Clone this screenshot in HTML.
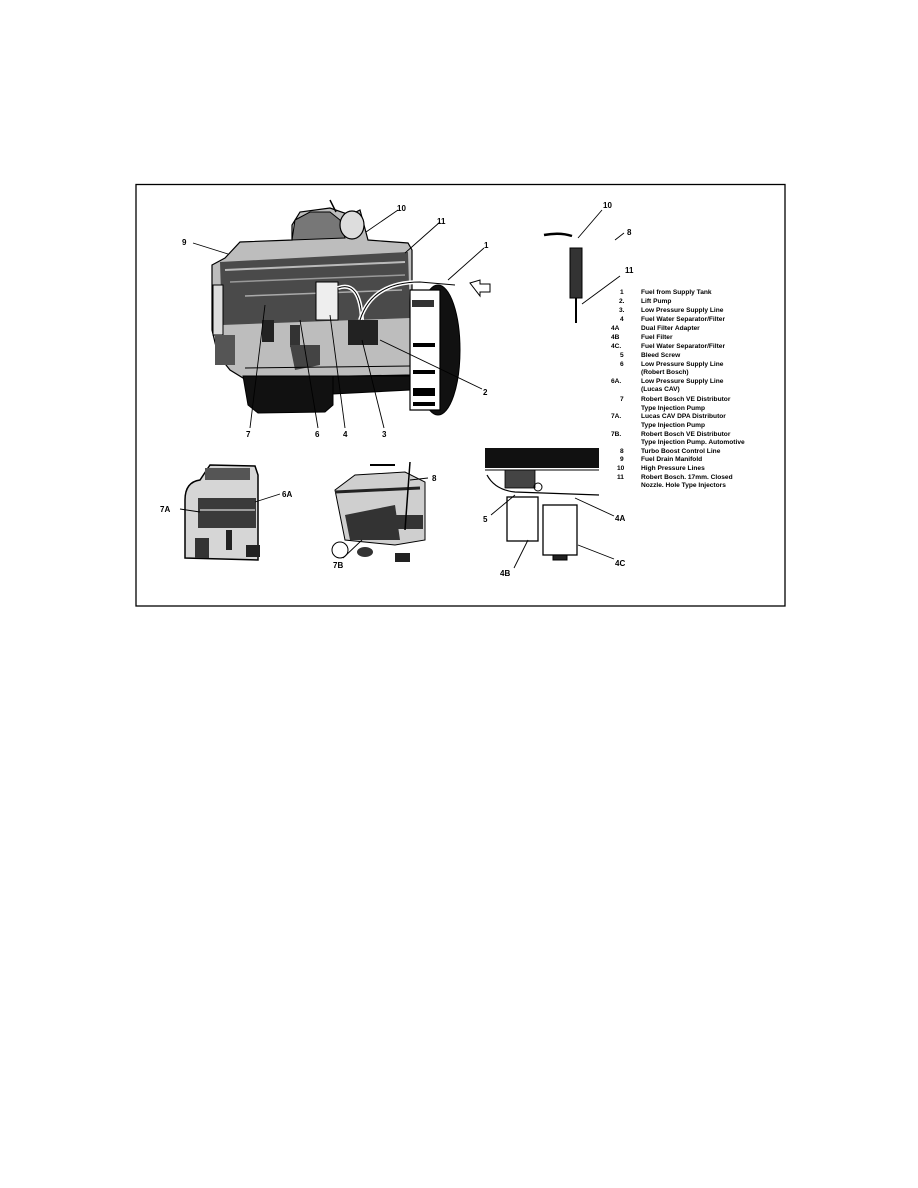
<!DOCTYPE html>
<html><head><meta charset="utf-8"><style>
html,body{margin:0;padding:0;background:#fff;}
svg{display:block;}
text{font-family:"Liberation Sans",sans-serif;font-weight:bold;fill:#000;}
.lg{font-size:6.6px;}
.lb{font-size:8px;}
</style></head><body>
<svg width="918" height="1188" viewBox="0 0 918 1188" xmlns="http://www.w3.org/2000/svg">
<rect x="136" y="184.5" width="649" height="421.5" fill="none" stroke="#000" stroke-width="1.3"/>

<!-- main engine -->
<g stroke="#000" fill="none">
 <!-- body -->
 <path d="M212 265 L225 258 L240 242 L292 240 L292 225 L300 212 L330 208 L350 215 L360 210 L368 240 L408 243 L412 250 L412 375 L243 378 L230 370 L218 355 L212 330 Z" fill="#bdbdbd" stroke-width="1.2"/>
 <!-- turbo -->
 <path d="M292 240 L295 220 L310 212 L330 212 L340 220 L345 238 Z" fill="#777"/>
 <ellipse cx="352" cy="225" rx="12" ry="14" fill="#ddd" stroke-width="1.2"/>
 <path d="M330 200 L336 212" stroke-width="1.5"/>
 <!-- upper dark region -->
 <path d="M220 262 L408 252 L410 318 L222 325 Z" fill="#4a4a4a" stroke="none"/>
 <path d="M225 270 L405 262" stroke="#bbb" stroke-width="2"/>
 <path d="M230 282 L405 275" stroke="#999" stroke-width="1.5"/>
 <path d="M245 296 L402 290" stroke="#aaa" stroke-width="1.5"/>
 <rect x="213" y="285" width="10" height="50" fill="#ddd" stroke-width="1"/>
 <!-- filter canister -->
 <rect x="316" y="282" width="22" height="38" fill="#eee" stroke-width="1"/>
 <!-- fuel lines -->
 <path d="M338 288 Q360 280 362 320" stroke="#fff" stroke-width="4"/>
 <path d="M338 288 Q360 280 362 320" stroke-width="1"/>
 <path d="M360 320 Q372 282 420 282 L455 285" stroke="#fff" stroke-width="4"/>
 <path d="M360 320 Q372 282 420 282 L455 285" stroke-width="1"/>
 <path d="M470 283 L480 280 L480 284 L490 284 L490 292 L480 292 L480 296 Z" fill="#fff" stroke-width="1"/>
 <!-- lower band features -->
 <rect x="262" y="320" width="12" height="22" fill="#222" stroke="none"/>
 <rect x="290" y="325" width="10" height="22" fill="#333" stroke="none"/>
 <path d="M290 345 L320 345 L320 365 L295 370 Z" fill="#444" stroke="none"/>
 <rect x="348" y="320" width="30" height="25" fill="#222" stroke="none"/>
 <rect x="215" y="335" width="20" height="30" fill="#555" stroke="none"/>
 <line x1="245" y1="368" x2="410" y2="366" stroke-width="1"/>
 <!-- oil pan -->
 <path d="M243 376 L333 376 L333 405 L325 412 L258 413 L248 405 Z" fill="#111"/>
 <path d="M333 376 L410 376 L410 390 L333 394 Z" fill="#111"/>
 <!-- flywheel housing -->
 <ellipse cx="438" cy="350" rx="22" ry="65" fill="#111"/>
 <path d="M410 290 L440 290 L440 410 L410 410 Z" fill="#fff" stroke-width="1.2"/>
 <rect x="412" y="300" width="22" height="7" fill="#333" stroke="none"/>
 <rect x="413" y="343" width="22" height="4" fill="#000" stroke="none"/>
 <rect x="413" y="370" width="22" height="4" fill="#000" stroke="none"/>
 <rect x="413" y="388" width="22" height="8" fill="#000" stroke="none"/>
 <rect x="413" y="402" width="22" height="4" fill="#000" stroke="none"/>
 <!-- leaders -->
 <g stroke-width="0.9">
  <line x1="193" y1="243" x2="228" y2="254"/>
  <line x1="398" y1="210" x2="366" y2="232"/>
  <line x1="440" y1="222" x2="405" y2="253"/>
  <line x1="484" y1="248" x2="448" y2="280"/>
  <line x1="482" y1="389" x2="380" y2="340"/>
  <line x1="250" y1="428" x2="265" y2="305"/>
  <line x1="318" y1="428" x2="300" y2="320"/>
  <line x1="345" y1="428" x2="330" y2="315"/>
  <line x1="384" y1="428" x2="362" y2="340"/>
 </g>
</g>
<text class="lb" x="397" y="211">10</text>
<text class="lb" x="437" y="224">11</text>
<text class="lb" x="484" y="248">1</text>
<text class="lb" x="182" y="245">9</text>
<text class="lb" x="483" y="395">2</text>
<text class="lb" x="246" y="437">7</text>
<text class="lb" x="315" y="437">6</text>
<text class="lb" x="343" y="437">4</text>
<text class="lb" x="382" y="437">3</text>

<!-- injector -->
<g stroke="#000" fill="none">
 <path d="M544 235 Q560 232 572 236" stroke-width="2.5"/>
 <rect x="570" y="248" width="12" height="50" fill="#333"/>
 <line x1="576" y1="298" x2="576" y2="323" stroke-width="2"/>
 <line x1="578" y1="238" x2="602" y2="210" stroke-width="0.9"/>
 <line x1="582" y1="304" x2="620" y2="276" stroke-width="0.9"/>
 <line x1="615" y1="240" x2="624" y2="233" stroke-width="0.9"/>
</g>
<text class="lb" x="603" y="208">10</text>
<text class="lb" x="627" y="235">8</text>
<text class="lb" x="625" y="273">11</text>

<!-- legend -->
<g class="lg">
<text x="620" y="294">1</text><text x="641" y="294">Fuel from Supply Tank</text>
<text x="619" y="303">2.</text><text x="641" y="303">Lift Pump</text>
<text x="619" y="312">3.</text><text x="641" y="312">Low Pressure Supply Line</text>
<text x="620" y="321">4</text><text x="641" y="321">Fuel Water Separator/Filter</text>
<text x="611" y="330">4A</text><text x="641" y="330">Dual Filter Adapter</text>
<text x="611" y="339">4B</text><text x="641" y="339">Fuel Filter</text>
<text x="611" y="348">4C.</text><text x="641" y="348">Fuel Water Separator/Filter</text>
<text x="620" y="357">5</text><text x="641" y="357">Bleed Screw</text>
<text x="620" y="366">6</text><text x="641" y="366">Low Pressure Supply Line</text>
<text x="641" y="374">(Robert Bosch)</text>
<text x="611" y="383">6A.</text><text x="641" y="383">Low Pressure Supply Line</text>
<text x="641" y="391">(Lucas CAV)</text>
<text x="620" y="401">7</text><text x="641" y="401">Robert Bosch VE Distributor</text>
<text x="641" y="410">Type Injection Pump</text>
<text x="611" y="418">7A.</text><text x="641" y="418">Lucas CAV DPA Distributor</text>
<text x="641" y="427">Type Injection Pump</text>
<text x="611" y="436">7B.</text><text x="641" y="436">Robert Bosch VE Distributor</text>
<text x="641" y="444">Type Injection Pump. Automotive</text>
<text x="620" y="453">8</text><text x="641" y="453">Turbo Boost Control Line</text>
<text x="620" y="461">9</text><text x="641" y="461">Fuel Drain Manifold</text>
<text x="617" y="470">10</text><text x="641" y="470">High Pressure Lines</text>
<text x="617" y="479">11</text><text x="641" y="479">Robert Bosch. 17mm. Closed</text>
<text x="641" y="487">Nozzle. Hole Type Injectors</text>
</g>

<!-- inset 7A -->
<g stroke="#000" fill="none">
 <path d="M185 500 Q185 482 200 480 L210 465 L255 466 L258 475 L258 560 L185 558 Z" fill="#d6d6d6" stroke-width="1.5"/>
 <rect x="205" y="468" width="45" height="12" fill="#555" stroke="none"/>
 <rect x="198" y="498" width="58" height="30" fill="#3a3a3a" stroke="none"/>
 <line x1="200" y1="510" x2="255" y2="510" stroke="#bbb" stroke-width="1.5"/>
 <rect x="195" y="538" width="14" height="20" fill="#333" stroke="none"/>
 <rect x="226" y="530" width="6" height="20" fill="#222" stroke="none"/>
 <rect x="246" y="545" width="14" height="12" fill="#222" stroke="none"/>
 <line x1="180" y1="509" x2="200" y2="512" stroke-width="0.9"/>
 <line x1="255" y1="502" x2="280" y2="494" stroke-width="0.9"/>
</g>
<text class="lb" x="160" y="512">7A</text>
<text class="lb" x="282" y="497">6A</text>

<!-- inset 7B -->
<g stroke="#000" fill="none">
 <path d="M335 490 L355 475 L405 472 L425 482 L425 540 L395 545 L345 540 Z" fill="#cfcfcf" stroke-width="1"/>
 <path d="M345 515 L395 505 L400 540 L350 540 Z" fill="#333" stroke="none"/>
 <path d="M335 492 L420 488" stroke="#222" stroke-width="3"/>
 <rect x="395" y="515" width="28" height="14" fill="#333" stroke="none"/>
 <path d="M370 465 L395 465" stroke-width="2"/>
 <line x1="410" y1="462" x2="405" y2="530" stroke-width="1.5"/>
 <circle cx="340" cy="550" r="8"/>
 <ellipse cx="365" cy="552" rx="8" ry="5" fill="#333" stroke="none"/>
 <rect x="395" y="553" width="15" height="9" fill="#222" stroke="none"/>
 <line x1="343" y1="558" x2="362" y2="540" stroke-width="0.9"/>
 <line x1="410" y1="480" x2="428" y2="478" stroke-width="0.9"/>
</g>
<text class="lb" x="432" y="481">8</text>
<text class="lb" x="333" y="568">7B</text>

<!-- inset filters -->
<g stroke="#000" fill="none">
 <rect x="485" y="448" width="114" height="20" fill="#111" stroke="none"/>
 <path d="M485 470 L599 470" stroke-width="1"/>
 <path d="M487 475 Q495 490 515 492 L599 495" stroke-width="1.2"/>
 <rect x="505" y="470" width="30" height="18" fill="#444" stroke-width="0.8"/>
 <circle cx="538" cy="487" r="4"/>
 <rect x="507" y="497" width="31" height="44" stroke-width="1.3"/>
 <rect x="543" y="505" width="34" height="50" stroke-width="1.3"/>
 <rect x="553" y="555" width="14" height="5" fill="#222"/>
 <line x1="491" y1="515" x2="515" y2="495" stroke-width="0.9"/>
 <line x1="575" y1="498" x2="614" y2="516" stroke-width="0.9"/>
 <line x1="514" y1="568" x2="528" y2="540" stroke-width="0.9"/>
 <line x1="578" y1="545" x2="614" y2="559" stroke-width="0.9"/>
</g>
<text class="lb" x="483" y="522">5</text>
<text class="lb" x="615" y="521">4A</text>
<text class="lb" x="500" y="576">4B</text>
<text class="lb" x="615" y="566">4C</text>
</svg>
</body></html>
